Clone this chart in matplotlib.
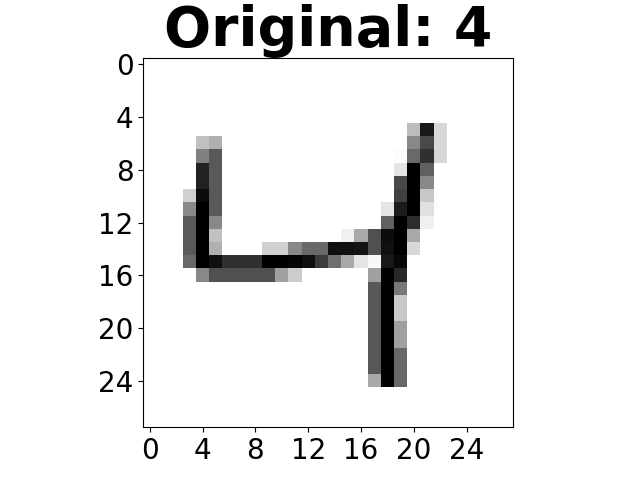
import numpy as np
import matplotlib
matplotlib.use('Agg')
import matplotlib.pyplot as plt

label = 4

# non-zero pixels of the 28x28 digit (row, col, ink 0-255)
px_rows = [5, 5, 5,
           6, 6, 6, 6, 6,
           7, 7, 7, 7, 7, 7,
           8, 8, 8, 8, 8,
           9, 9, 9, 9, 9,
           10, 10, 10, 10, 10, 10,
           11, 11, 11, 11, 11, 11, 11,
           12, 12, 12, 12, 12, 12, 12,
           13, 13, 13, 13, 13, 13, 13, 13, 13,
           14, 14, 14, 14, 14, 14, 14, 14, 14, 14, 14, 14, 14, 14, 14,
           15, 15, 15, 15, 15, 15, 15, 15, 15, 15, 15, 15, 15, 15, 15, 15, 15,
           16, 16, 16, 16, 16, 16, 16, 16, 16, 16, 16,
           17, 17, 17, 18, 18, 18, 19, 19, 19, 20, 20, 20,
           21, 21, 21, 22, 22, 22, 23, 23, 23, 24, 24, 24]
px_cols = [20, 21, 22,
           4, 5, 20, 21, 22,
           4, 5, 19, 20, 21, 22,
           4, 5, 19, 20, 21,
           4, 5, 19, 20, 21,
           3, 4, 5, 19, 20, 21,
           3, 4, 5, 18, 19, 20, 21,
           3, 4, 5, 18, 19, 20, 21,
           3, 4, 5, 15, 16, 17, 18, 19, 20,
           3, 4, 5, 9, 10, 11, 12, 13, 14, 15, 16, 17, 18, 19, 20,
           3, 4, 5, 6, 7, 8, 9, 10, 11, 12, 13, 14, 15, 16, 17, 18, 19,
           4, 5, 6, 7, 8, 9, 10, 11, 17, 18, 19,
           17, 18, 19, 17, 18, 19, 17, 18, 19, 17, 18, 19,
           17, 18, 19, 17, 18, 19, 17, 18, 19, 17, 18, 19]
px_ink = [67, 229, 39,
          63, 79, 119, 181, 39,
          127, 165, 3, 149, 207, 39,
          221, 165, 27, 255, 159,
          221, 165, 181, 255, 119,
          47, 243, 165, 191, 255, 55,
          119, 255, 165, 27, 227, 255, 31,
          165, 255, 119, 159, 255, 211, 15,
          165, 255, 63, 15, 87, 175, 243, 255, 87,
          165, 255, 79, 47, 47, 119, 149, 149, 239, 239, 235, 175, 239, 255, 39,
          149, 255, 239, 207, 207, 207, 255, 255, 250, 239, 195, 143, 87, 27, 7, 231, 247,
          119, 175, 175, 175, 175, 175, 95, 51, 95, 255, 215,
          167, 255, 135, 167, 255, 55, 167, 255, 55, 167, 255, 95,
          167, 255, 95, 167, 255, 151, 167, 255, 151, 87, 255, 151]

img = np.zeros((28, 28))
img[px_rows, px_cols] = px_ink

fig, ax = plt.subplots(figsize=(6.4, 4.8), dpi=100)
ax.imshow(img, cmap='gray_r')
ax.set_title(f'Original: {label}', fontsize=40, fontweight='bold')
ax.set_xticks(np.arange(0, 28, 4))
ax.set_yticks(np.arange(0, 28, 4))
ax.tick_params(labelsize=20)
plt.savefig('out.png')
